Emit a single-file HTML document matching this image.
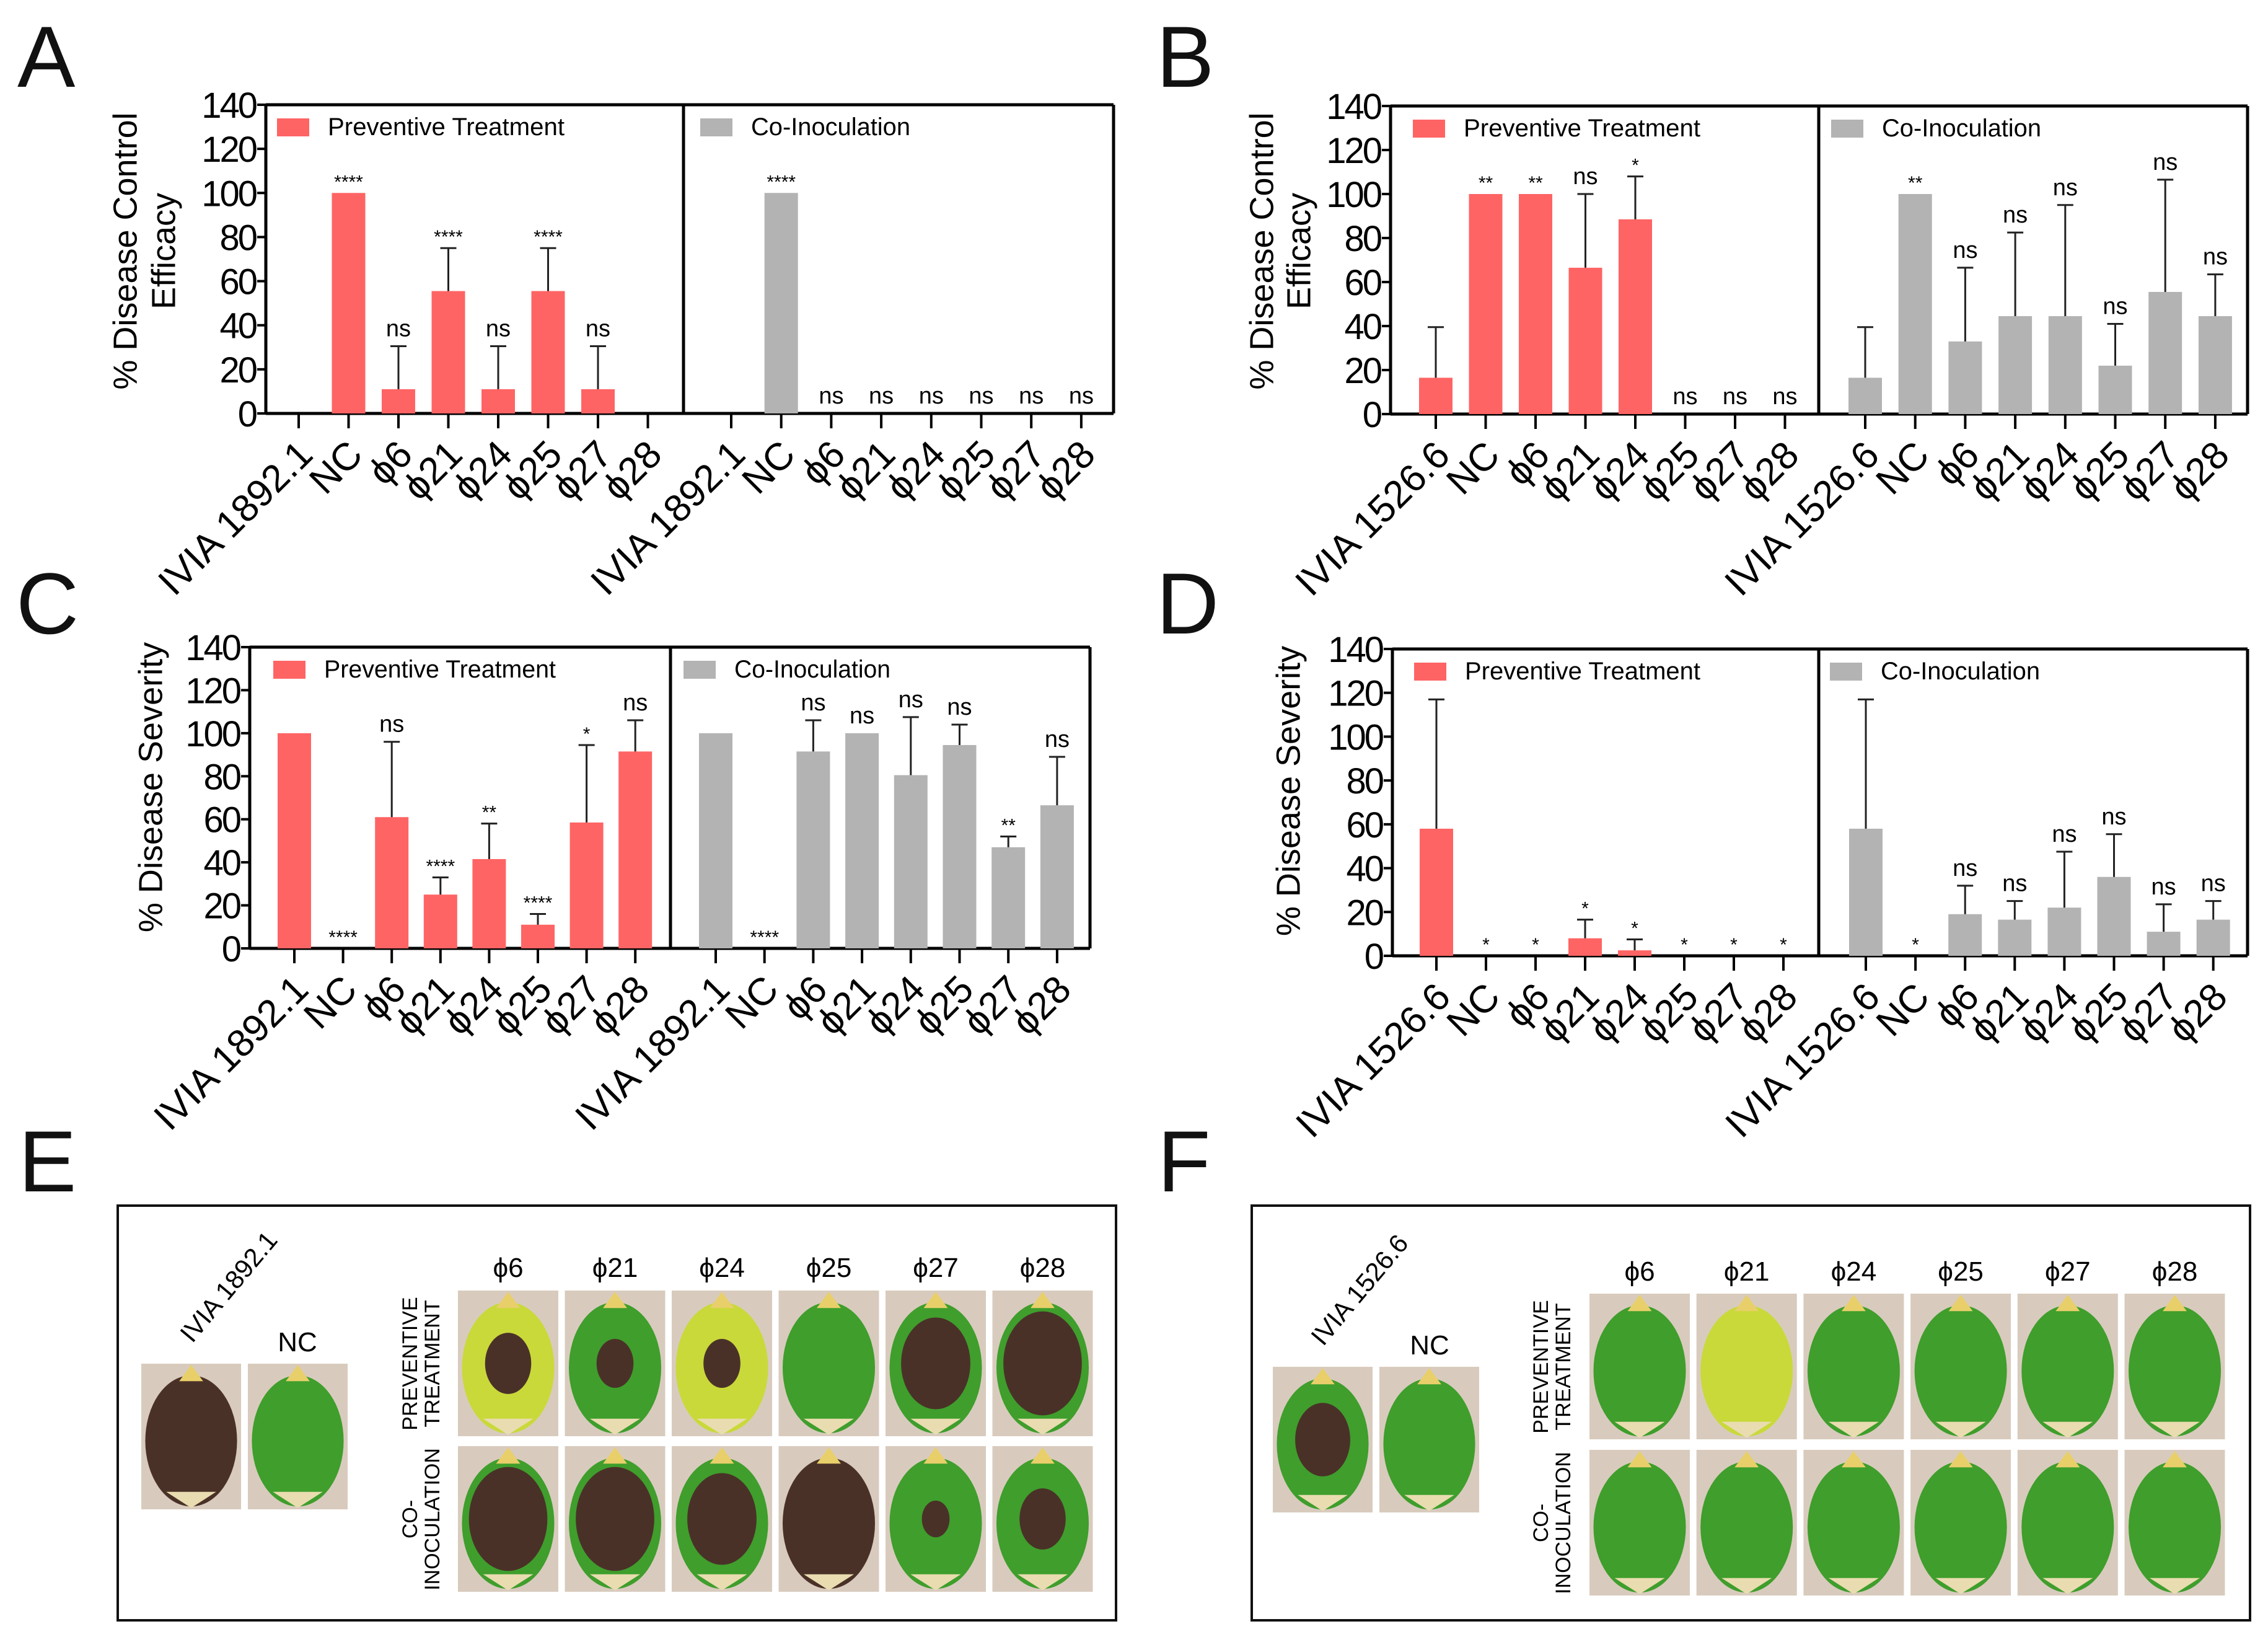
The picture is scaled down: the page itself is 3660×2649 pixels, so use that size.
<!DOCTYPE html>
<html><head><meta charset="utf-8"><style>
html,body{margin:0;padding:0;background:#fff;}
svg{display:block;font-family:"Liberation Sans",Arial,sans-serif;}
</style></head><body>
<svg id="fig" width="3660" height="2649" viewBox="0 0 3660 2649" xmlns="http://www.w3.org/2000/svg">
<g id="charts"></g>
<g id="photos"></g>
</svg>
<script>
// ---- chart data ----
const catsA = ["IVIA 1892.1","NC","ϕ6","ϕ21","ϕ24","ϕ25","ϕ27","ϕ28"];
const catsB = ["IVIA 1526.6","NC","ϕ6","ϕ21","ϕ24","ϕ25","ϕ27","ϕ28"];
const yTicks = [0,20,40,60,80,100,120,140];

const aPreVal = [0,100,11,55.5,11,55.5,11,0];
const aPreErr = [null,null,30.5,75,30.5,75,30.5,null];
const aPreSig = ["","****","ns","****","ns","****","ns",""];
const aCoVal = [0,100,0,0,0,0,0,0];
const aCoErr = [null,null,null,null,null,null,null,null];
const aCoSig = ["","****","ns","ns","ns","ns","ns","ns"];

const bPreVal = [16.5,100,100,66.5,88.5,0,0,0];
const bPreErr = [39.5,null,null,100,108,null,null,null];
const bPreSig = ["","**","**","ns","*","ns","ns","ns"];
const bCoVal = [16.5,100,33,44.5,44.5,22,55.5,44.5];
const bCoErr = [39.5,null,66.5,82.5,95,41,106.5,63.5];
const bCoSig = ["","**","ns","ns","ns","ns","ns","ns"];

const cPreVal = [100,0,61,25,41.5,11,58.5,91.5];
const cPreErr = [null,null,96,33,58,16,94.5,106];
const cPreSig = ["","****","ns","****","**","****","*","ns"];
const cCoVal = [100,0,91.5,100,80.5,94.5,47,66.5];
const cCoErr = [null,null,106,null,107.5,104,52,89];
const cCoSig = ["","****","ns","ns","ns","ns","**","ns"];

const dPreVal = [58,0,0,8,2.5,0,0,0];
const dPreErr = [117,null,null,16.5,7.5,null,null,null];
const dPreSig = ["","*","*","*","*","*","*","*"];
const dCoVal = [58,0,19,16.5,22,36,11,16.5];
const dCoErr = [117,null,32,25,47.5,55.5,23.5,25];
const dCoSig = ["","*","ns","ns","ns","ns","ns","ns"];

const NS="http://www.w3.org/2000/svg";
const RED="#ff6464", GRAY="#b3b3b3";
function mk(parent,tag,attrs,text){
  const e=document.createElementNS(NS,tag);
  for(const k in attrs)e.setAttribute(k,attrs[k]);
  if(text!==undefined)e.textContent=text;
  parent.appendChild(e);return e;
}
const charts=document.getElementById('charts');

function panel(id,g,cats,series){
  const root=mk(charts,'g',{});
  
  
  const yS=v=>g.y0-v/140*(g.y0-g.y140);
  const L=mk(root,'text',{x:g.lx,y:g.ly,'font-size':140,fill:'#111'},id);
  
  
  const t=mk(root,'g',{});
  
  
  g.title.forEach((ln,i)=>{
    mk(t,'text',{x:0,y:0,'font-size':54,'text-anchor':'middle',
      transform:`translate(${g.tx[i]},${g.ty}) rotate(-90)`,'dominant-baseline':'middle'},ln);
  });
  const fr=mk(root,'g',{stroke:'#000','stroke-width':5,fill:'none'});
  
  
  mk(fr,'line',{x1:g.left,y1:g.y140-2,x2:g.left,y2:g.y0+2});
  mk(fr,'line',{x1:g.left,y1:g.y140,x2:g.right,y2:g.y140});
  mk(fr,'line',{x1:g.right,y1:g.y140,x2:g.right,y2:g.y0});
  mk(fr,'line',{x1:g.div,y1:g.y140,x2:g.div,y2:g.y0});
  mk(fr,'line',{x1:g.left,y1:g.y0,x2:g.right,y2:g.y0});
  const ya=mk(root,'g',{});
  
  
  yTicks.forEach(v=>{
    mk(ya,'line',{x1:g.left-14,x2:g.left,y1:yS(v),y2:yS(v),stroke:'#000','stroke-width':4});
    const tl=mk(ya,'text',{x:g.left-16,y:yS(v)+21,'font-size':58,'letter-spacing':-3,'text-anchor':'end'},String(v));
    
    
  });
  series.forEach((s,si)=>{
    const sg=mk(root,'g',{});
    
    
    const lg=mk(sg,'g',{});
    
    
    mk(lg,'rect',{x:s.lgx,y:g.y140+22,width:52,height:29,fill:s.color});
    mk(lg,'text',{x:s.lgx+82,y:g.y140+49,'font-size':40,textLength:s.tl,lengthAdjust:'spacingAndGlyphs'},s.name);
    cats.forEach((c,i)=>{
      const x=s.x0+i*s.step;
      mk(sg,'line',{x1:x,x2:x,y1:g.y0,y2:g.y0+24,stroke:'#000','stroke-width':4});
      const xl=mk(sg,'text',{x:0,y:0,'font-size':62,'text-anchor':'end',
        transform:`translate(${x+26},${g.y0+70}) rotate(-45)`},c);
      
      
      const v=s.val[i];
      if(v>0){
        const b=mk(sg,'rect',{x:x-27,y:yS(v),width:54,height:g.y0-yS(v),fill:s.color});
        
        
      }
      const e=s.err[i];
      if(e!==null){
        const eb=mk(sg,'g',{stroke:'#222','stroke-width':3});
        
        
        mk(eb,'line',{x1:x,x2:x,y1:yS(v),y2:yS(e)});
        mk(eb,'line',{x1:x-13,x2:x+13,y1:yS(e),y2:yS(e)});
      }
      const sig=s.sig[i];
      if(sig){
        const top=yS(e!==null?e:v);
        const isNs=sig==='ns';
        const st=mk(sg,'text',{x:x,y:isNs?top-16:top-8,'font-size':isNs?38:30,'text-anchor':'middle'},sig);
        
        
      }
    });
  });
}

panel('A',{lx:28,ly:140,left:429,div:1103,right:1797,y140:169,y0:667,
  title:["% Disease Control","Efficacy"],tx:[206,268],ty:405},catsA,[
  {name:"Preventive Treatment",color:RED,lgx:447,tl:382,x0:482,step:80.5,val:aPreVal,err:aPreErr,sig:aPreSig},
  {name:"Co-Inoculation",color:GRAY,lgx:1130,tl:257,x0:1180,step:80.7,val:aCoVal,err:aCoErr,sig:aCoSig}]);
panel('B',{lx:1866,ly:140,left:2244,div:2935,right:3627,y140:171,y0:668,
  title:["% Disease Control","Efficacy"],tx:[2040,2100],ty:405},catsB,[
  {name:"Preventive Treatment",color:RED,lgx:2280,tl:382,x0:2317,step:80.5,val:bPreVal,err:bPreErr,sig:bPreSig},
  {name:"Co-Inoculation",color:GRAY,lgx:2955,tl:257,x0:3010,step:80.7,val:bCoVal,err:bCoErr,sig:bCoSig}]);
panel('C',{lx:26,ly:1022,left:403,div:1082,right:1759,y140:1044,y0:1530,
  title:["% Disease Severity"],tx:[247],ty:1270},catsA,[
  {name:"Preventive Treatment",color:RED,lgx:441,tl:374,x0:475,step:78.6,val:cPreVal,err:cPreErr,sig:cPreSig},
  {name:"Co-Inoculation",color:GRAY,lgx:1103,tl:252,x0:1155,step:78.7,val:cCoVal,err:cCoErr,sig:cCoSig}]);
panel('D',{lx:1866,ly:1022,left:2247,div:2935,right:3627,y140:1047,y0:1542,
  title:["% Disease Severity"],tx:[2083],ty:1276},catsB,[
  {name:"Preventive Treatment",color:RED,lgx:2282,tl:380,x0:2318,step:80,val:dPreVal,err:dPreErr,sig:dPreSig},
  {name:"Co-Inoculation",color:GRAY,lgx:2953,tl:257,x0:3011,step:80.1,val:dCoVal,err:dCoErr,sig:dCoSig}]);

// ---- photo panels ----
const photos=document.getElementById('photos');
function fruit(parent,x,y,w,h,base,rot,rotAmt,name){
  const g=mk(parent,'g',{});
  
  
  mk(g,'rect',{x:x,y:y,width:w,height:h,fill:'#d8cbbd'});
  const cx=x+w/2;
  mk(g,'ellipse',{cx:cx,cy:y+h*0.53,rx:w*0.46,ry:h*0.45,fill:base});
  if(rotAmt>0) mk(g,'ellipse',{cx:cx,cy:y+h*0.5,rx:w*0.46*rotAmt,ry:h*0.42*rotAmt,fill:rot});
  mk(g,'path',{d:`M${cx-w*0.12},${y+h*0.12} L${cx},${y+2} L${cx+w*0.12},${y+h*0.12} Z`,fill:'#e8cf6a'});
  mk(g,'path',{d:`M${cx-w*0.25},${y+h*0.88} L${cx},${y+h*0.99} L${cx+w*0.25},${y+h*0.88} Z`,fill:'#e9dcb0'});
}
const G='#3f9e2c',Y='#c9d93a',B='#4a3128';
function photoPanel(id,o){
  const g=mk(photos,'g',{});
  
  
  const L=mk(g,'text',{x:o.lx,y:1922,'font-size':140,fill:'#111'},id);
  
  
  mk(g,'rect',{x:o.bx,y:1945,width:1611,height:669,fill:'none',stroke:'#111','stroke-width':4});
  const s=mk(g,'text',{x:0,y:0,'font-size':42,transform:`translate(${o.sx},${o.sy}) rotate(-50)`,'text-anchor':'middle'},o.strain);
  
  
  const nc=mk(g,'text',{x:o.ncx,y:o.ncy,'font-size':44,'text-anchor':'middle'},'NC');
  
  
  fruit(g,o.p1x,o.py,161,235,o.c1[0],o.c1[1],o.c1[2],'strain-photo');
  fruit(g,o.p1x+172,o.py,161,235,G,G,0,'nc-photo');
  ['ϕ6','ϕ21','ϕ24','ϕ25','ϕ27','ϕ28'].forEach((p,i)=>{
    const x=o.gx+i*o.gs;
    const t=mk(g,'text',{x:x+81,y:o.hy,'font-size':44,'text-anchor':'middle'},p);
    
    
    fruit(g,x,o.r1,162,235,o.pre[i][0],o.pre[i][1],o.pre[i][2],'preventive-photo');
    fruit(g,x,o.r2,162,235,o.co[i][0],o.co[i][1],o.co[i][2],'co-inoculation-photo');
  });
  const rl=(lines,cy)=>{
    lines.forEach((ln,i)=>{
      const t=mk(g,'text',{x:0,y:0,'font-size':34,'text-anchor':'middle',
        transform:`translate(${o.rx+i*36},${cy}) rotate(-90)`},ln);
      
      
    });
  };
  rl(['PREVENTIVE','TREATMENT'],o.r1+118);
  rl(['CO-','INOCULATION'],o.r2+118);
}
photoPanel('E',{lx:30,bx:190,strain:'IVIA 1892.1',sx:380,sy:2085,ncx:480,ncy:2180,
  p1x:228,py:2200,c1:[B,B,0],gx:739,gs:172.5,hy:2060,r1:2082,r2:2333,rx:673,
  pre:[[Y,B,0.5],[G,B,0.4],[Y,B,0.4],[G,G,0],[G,B,0.75],[G,B,0.85]],
  co:[[G,B,0.85],[G,B,0.85],[G,B,0.75],[B,B,0],[G,B,0.3],[G,B,0.5]]});
photoPanel('F',{lx:1868,bx:2020,strain:'IVIA 1526.6',sx:2205,sy:2090,ncx:2307,ncy:2185,
  p1x:2054,py:2205,c1:[G,B,0.6],gx:2565,gs:172.7,hy:2066,r1:2087,r2:2339,rx:2498,
  pre:[[G,G,0],[Y,Y,0],[G,G,0],[G,G,0],[G,G,0],[G,G,0]],
  co:[[G,G,0],[G,G,0],[G,G,0],[G,G,0],[G,G,0],[G,G,0]]});
</script>
</body></html>
